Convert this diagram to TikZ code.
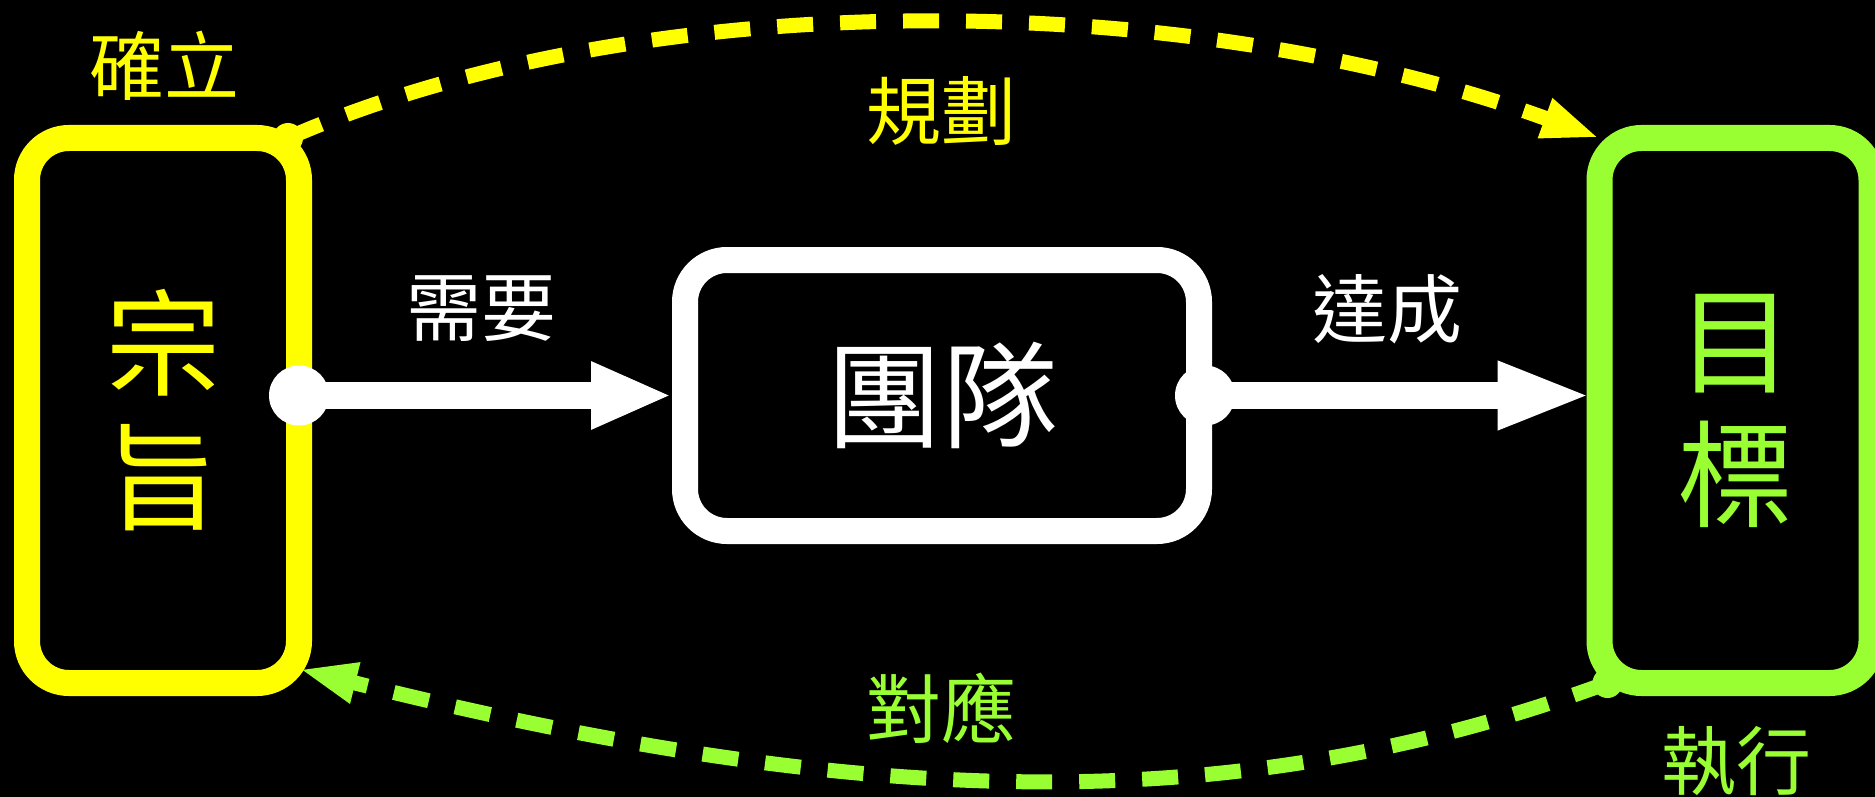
\documentclass[tikz,border=0pt]{standalone}
\usepackage{fontspec}
\setmainfont{Noto Sans CJK TC}
\usetikzlibrary{arrows.meta}
\definecolor{ylw}{RGB}{255,255,0}
\definecolor{grn}{RGB}{153,255,51}
\begin{document}
\begin{tikzpicture}[x=1pt,y=-1pt,
  box/.style={draw, line width=26pt, rounded corners=42pt, minimum width=272pt,
    minimum height=545pt, inner sep=0pt, outer sep=0pt, align=center,
    font=\fontsize{116}{134}\selectfont},
  lbl/.style={inner sep=0pt, font=\fontsize{75}{75}\selectfont},
  flow/.style={white, line width=27pt},
  loopline/.style={line width=15pt, dash pattern=on 36pt off 27pt},
]
\fill[black] (0,0) rectangle (1875,797);
\useasboundingbox (0,0) rectangle (1875,797);

\node[box, draw=ylw, text=ylw] (ys) at (163,410.5) {宗\\旨};
\node[box, draw=grn, text=grn] (gb) at (1735.5,410.5) {目\\標};
\node[box, draw=white, text=white, minimum width=514pt, minimum height=271pt] (tm) at (942,395.5) {團隊};

\coordinate (a1) at (ys.east |- tm.west);
\coordinate (a2) at ([xshift=6pt]tm.east);
\draw[flow, -{Triangle[length=81pt,width=62pt]}, shorten >=13pt] (a1) -- (tm.west);
\fill[white] (a1) circle (30pt);
\draw[flow, -{Triangle[length=94pt,width=62pt]}, shorten >=8pt] (a2) -- (tm.east -| gb.west);
\fill[white] (a2) circle (30pt);

\coordinate (t1) at ([xshift=-11pt]ys.north east);
\draw[loopline, ylw, -{Triangle[length=58pt,width=38pt]}] (t1) .. controls +(350,-153) and +(-420,-153) .. (gb.north west);
\fill[ylw] (t1) circle (15pt);

\coordinate (b1) at ([xshift=8pt]gb.south west);
\coordinate (b2) at ([yshift=14pt]ys.south east);
\draw[loopline, grn, -{Triangle[length=58pt,width=38pt]}] (b1) .. controls +(-360,132) and +(585,146) .. (b2);
\fill[grn] (b1) circle (15pt);

\node[lbl, text=ylw] (l1) at (164,66) {確立};
\node[lbl, text=ylw] (l2) at (941,111) {規劃};
\node[lbl, text=white] (l3) at (481,309) {需要};
\node[lbl, text=white] (l4) at (1387,309) {達成};
\node[lbl, text=grn] (l5) at (941,708) {對應};
\node[lbl, text=grn] (l6) at (1736,761) {執行};
\end{tikzpicture}
\end{document}
